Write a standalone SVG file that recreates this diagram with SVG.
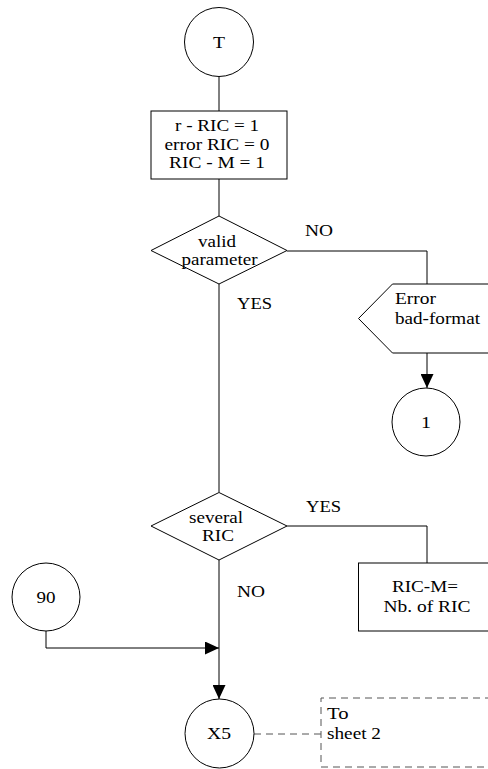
<svg xmlns="http://www.w3.org/2000/svg" width="488" height="769" viewBox="0 0 488 769">
<defs>
<style>
.s{fill:#fff;stroke:#000;stroke-width:1}
.ln{fill:none;stroke:#000;stroke-width:1}
.d{fill:none;stroke:#555;stroke-width:1;stroke-dasharray:7,5}
.t{font-family:'Liberation Serif','DejaVu Serif',serif;font-size:17px;fill:#000}
.m{text-anchor:middle}
</style>
<marker id="ah" viewBox="0 0 14 13" refX="14" refY="6.5" markerWidth="14" markerHeight="13" markerUnits="userSpaceOnUse" orient="auto">
<path d="M0,0 L14,6.5 L0,13 Z" fill="#000"/>
</marker>
</defs>
<rect width="488" height="769" fill="#fff"/>
<g id="connectors" class="t">
<line class="ln" x1="219" y1="77" x2="219" y2="111"/>
<line class="ln" x1="219" y1="179" x2="219" y2="216"/>
<line class="ln" x1="219" y1="284" x2="219" y2="492"/>
<polyline class="ln" points="287,251 427,251 427,284"/>
<line class="ln" x1="427" y1="353" x2="427" y2="388" marker-end="url(#ah)"/>
<polyline class="ln" points="287,526 427,526 427,563"/>
<line class="ln" x1="219" y1="560" x2="219" y2="699" marker-end="url(#ah)"/>
<polyline class="ln" points="46,631 46,648 219,648" marker-end="url(#ah)"/>
<line class="d" x1="254" y1="734" x2="321" y2="734"/>
<text x="305" y="236" textLength="28" lengthAdjust="spacingAndGlyphs">NO</text>
<text x="237" y="309" textLength="35" lengthAdjust="spacingAndGlyphs">YES</text>
<text x="306" y="512" textLength="35" lengthAdjust="spacingAndGlyphs">YES</text>
<text x="237" y="597" textLength="28" lengthAdjust="spacingAndGlyphs">NO</text>
</g>
<g id="T" class="t">
<circle class="s" cx="219" cy="42" r="34.5"/>
<text class="m" x="219" y="48" textLength="12" lengthAdjust="spacingAndGlyphs">T</text>
</g>
<g id="init" class="t">
<rect class="s" x="151" y="111" width="136" height="68"/>
<text class="m" x="217" y="131" textLength="84" lengthAdjust="spacingAndGlyphs">r - RIC = 1</text>
<text class="m" x="217" y="149.5" textLength="105" lengthAdjust="spacingAndGlyphs">error RIC = 0</text>
<text class="m" x="217" y="168" textLength="96" lengthAdjust="spacingAndGlyphs">RIC - M = 1</text>
</g>
<g id="valid" class="t">
<polygon class="s" points="219,216 287,250.5 219,284 151,250.5"/>
<text class="m" x="217" y="246.5" textLength="38" lengthAdjust="spacingAndGlyphs">valid</text>
<text class="m" x="219.5" y="265" textLength="76" lengthAdjust="spacingAndGlyphs">parameter</text>
</g>
<g id="error" class="t">
<polygon class="s" points="492,284 392.5,284 358.5,318.5 392.5,353 492,353"/>
<text x="395" y="304" textLength="41" lengthAdjust="spacingAndGlyphs">Error</text>
<text x="395" y="323.5" textLength="85" lengthAdjust="spacingAndGlyphs">bad-format</text>
</g>
<g id="c1" class="t">
<circle class="s" cx="426" cy="422" r="34"/>
<text class="m" x="426" y="428" textLength="10" lengthAdjust="spacingAndGlyphs">1</text>
</g>
<g id="several" class="t">
<polygon class="s" points="219,492.5 287,526 219,560 151,526"/>
<text class="m" x="216" y="522.5" textLength="54" lengthAdjust="spacingAndGlyphs">several</text>
<text class="m" x="218" y="541" textLength="32" lengthAdjust="spacingAndGlyphs">RIC</text>
</g>
<g id="ricm" class="t">
<rect class="s" x="358.5" y="563" width="140" height="68"/>
<text class="m" x="425" y="592" textLength="66" lengthAdjust="spacingAndGlyphs">RIC-M=</text>
<text class="m" x="427" y="612" textLength="87" lengthAdjust="spacingAndGlyphs">Nb. of RIC</text>
</g>
<g id="c90" class="t">
<circle class="s" cx="46" cy="597" r="34"/>
<text class="m" x="46" y="603" textLength="19" lengthAdjust="spacingAndGlyphs">90</text>
</g>
<g id="X5" class="t">
<circle class="s" cx="219.5" cy="733.5" r="34.5"/>
<text class="m" x="219" y="739" textLength="24" lengthAdjust="spacingAndGlyphs">X5</text>
</g>
<g id="sheet2" class="t">
<polyline class="d" points="492,698 321,698 321,767 492,767"/>
<text x="327" y="719" textLength="21.5" lengthAdjust="spacingAndGlyphs">To</text>
<text x="327" y="738.5" textLength="54" lengthAdjust="spacingAndGlyphs">sheet 2</text>
</g>
</svg>
